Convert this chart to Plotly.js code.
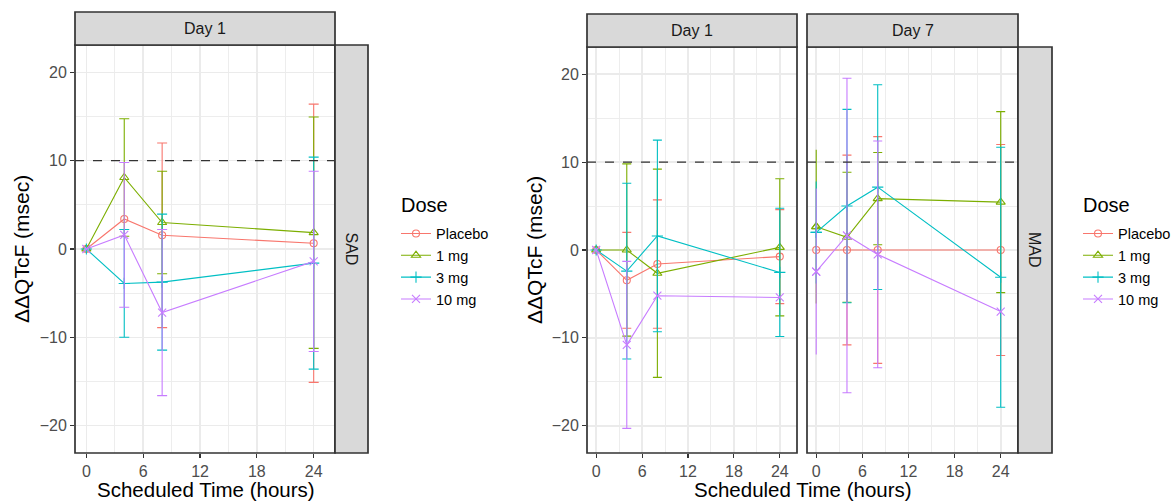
<!DOCTYPE html>
<html>
<head>
<meta charset="utf-8">
<script src="https://cdn.plot.ly/plotly-3.0.1.min.js"></script>
<style>html,body{margin:0;padding:0;background:#fff;}#chart{width:1176px;height:502px;}</style>
</head>
<body>
<div id="chart"></div>
<script>
// ---------- data ----------
const timeHours = [0, 4, 8, 24];
const doseNames = ["Placebo", "1 mg", "3 mg", "10 mg"];
const xTickVals = [0, 6, 12, 18, 24];
const yTickVals = [-20, -10, 0, 10, 20];
const refLine = 10;

// SAD, Day 1 (mean, half-width of error bar; null = no bar drawn)
const sadPlacebo = [0, 3.4, 1.55, 0.65];
const sadPlaceboErr = [null, null, 10.45, 15.75];
const sad1mg = [0, 8.1, 3.0, 1.85];
const sad1mgErr = [null, 6.65, 5.8, 13.1];
const sad3mg = [0, -3.9, -3.75, -1.6];
const sad3mgErr = [null, 6.1, 7.7, 12.0];
const sad10mg = [0, 1.6, -7.2, -1.4];
const sad10mgErr = [null, 8.2, 9.4, 10.2];

// MAD, Day 1
const madD1Placebo = [0, -3.45, -1.6, -0.75];
const madD1PlaceboErr = [null, 5.45, 7.3, 5.35];
const madD11mg = [0, 0.0, -2.65, 0.3];
const madD11mgErr = [null, 9.8, 11.85, 7.8];
const madD13mg = [0, -2.4, 1.6, -2.55];
const madD13mgErr = [null, 10.0, 10.9, 7.3];
const madD110mg = [0, -10.8, -5.2, -5.4];
const madD110mgErr = [null, 9.5, null, null];

// MAD, Day 7
const madD7Placebo = [0, 0, 0, 0];
const madD7PlaceboErr = [null, 10.8, 12.9, 12.0];
const madD71mg = [2.65, 1.45, 5.85, 5.45];
const madD71mgErr = [8.75, 7.4, 5.25, 10.3];
const madD73mg = [2.0, 5.0, 7.15, -3.1];
const madD73mgErr = [5.8, 11.0, 11.65, 14.8];
const madD710mg = [-2.45, 1.65, -0.5, -7.0];
const madD710mgErr = [9.45, 17.9, 12.9, null];

// ---------- style ----------
const colors = ["#F8766D", "#7CAE00", "#00BFC4", "#C77CFF"];
const symbols = ["circle-open", "triangle-up-open", "cross-thin-open", "x-thin-open"];
const sizes = [7, 8, 8, 8];
const FONT = "Liberation Sans, Arial, sans-serif";
const W = 1176, H = 502;
const px = v => v / W;
const py = v => 1 - v / H;

const nanify = a => a.map(v => (v === null ? NaN : v));

function panelTraces(xa, ya, vals, errs, legendId, showLegend, capW, noCapFirst) {
  const out = [];
  vals.forEach((v, k) => {
    const e = nanify(errs[k]);
    const mainErr = noCapFirst ? e.map((x, i) => (i === 0 ? NaN : x)) : e;
    out.push({
      type: "scatter", mode: "lines+markers",
      x: timeHours, y: v, xaxis: xa, yaxis: ya,
      name: doseNames[k], legend: legendId, showlegend: showLegend,
      line: {color: colors[k], width: 1.1},
      marker: {symbol: symbols[k], size: sizes[k], color: colors[k], line: {width: 1.1, color: colors[k]}},
      error_y: {type: "data", array: mainErr, visible: true, color: colors[k], thickness: 1.1, width: capW},
      hoverinfo: "skip"
    });
    if (noCapFirst && !isNaN(e[0])) {
      out.push({
        type: "scatter", mode: "markers",
        x: [timeHours[0]], y: [v[0]], xaxis: xa, yaxis: ya,
        showlegend: false,
        marker: {symbol: symbols[k], size: sizes[k], color: colors[k], line: {width: 1.1, color: colors[k]}},
        error_y: {type: "data", array: [e[0]], visible: true, color: colors[k], thickness: 1.1, width: 0},
        hoverinfo: "skip"
      });
    }
  });
  return out;
}

const traces = [].concat(
  panelTraces("x", "y", [sadPlacebo, sad1mg, sad3mg, sad10mg],
              [sadPlaceboErr, sad1mgErr, sad3mgErr, sad10mgErr], "legend", true, 5, false),
  panelTraces("x2", "y2", [madD1Placebo, madD11mg, madD13mg, madD110mg],
              [madD1PlaceboErr, madD11mgErr, madD13mgErr, madD110mgErr], "legend2", true, 4.5, false),
  panelTraces("x3", "y3", [madD7Placebo, madD71mg, madD73mg, madD710mg],
              [madD7PlaceboErr, madD71mgErr, madD73mgErr, madD710mgErr], "legend2", false, 4.5, true)
);

const gridC = "#EBEBEB";
function xAxis(d0, d1, anchor) {
  return {
    domain: [px(d0), px(d1)], anchor: anchor, range: [-1.2, 26.25],
    tickvals: xTickVals, ticktext: xTickVals.map(String),
    showline: false, zeroline: false, showgrid: true, gridcolor: gridC, gridwidth: 1.6,
    minor: {dtick: 3, tick0: 0, showgrid: true, gridcolor: gridC, gridwidth: 0.9},
    ticks: "outside", ticklen: 4, tickwidth: 1.1, tickcolor: "#333333",
    tickfont: {family: FONT, size: 16, color: "#4D4D4D"}, fixedrange: true
  };
}
function yAxis(top, anchor, labels) {
  return {
    domain: [py(453), py(top)], anchor: anchor, range: [-23.1, 23.1],
    tickvals: yTickVals, ticktext: yTickVals.map(v => (v < 0 ? "\u2212" + Math.abs(v) : String(v))),
    showline: false, zeroline: false, showgrid: true, gridcolor: gridC, gridwidth: 1.6,
    minor: {dtick: 5, tick0: 0, showgrid: true, gridcolor: gridC, gridwidth: 0.9},
    ticks: labels ? "outside" : "", ticklen: 4, tickwidth: 1.1, tickcolor: "#333333",
    showticklabels: labels,
    tickfont: {family: FONT, size: 16, color: "#4D4D4D"}, fixedrange: true
  };
}

function rect(x0, y0, x1, y1, fill) {
  return {type: "rect", xref: "paper", yref: "paper", x0: px(x0), x1: px(x1), y0: py(y1), y1: py(y0),
          fillcolor: fill, line: {color: "#333333", width: 1.7}, layer: "above"};
}
function dash(xr, yr) {
  return {type: "line", xref: xr + " domain", yref: yr, x0: 0, x1: 1, y0: refLine, y1: refLine,
          line: {color: "#333333", width: 1.2, dash: "dash"}, layer: "above"};
}

const shapes = [
  rect(75, 45, 335, 453, "rgba(0,0,0,0)"),
  rect(75, 12, 335, 45, "#D9D9D9"),
  rect(335, 45, 368, 453, "#D9D9D9"),
  rect(587, 47, 797, 453, "rgba(0,0,0,0)"),
  rect(587, 14, 797, 47, "#D9D9D9"),
  rect(807, 47, 1018, 453, "rgba(0,0,0,0)"),
  rect(807, 14, 1018, 47, "#D9D9D9"),
  rect(1018, 47, 1052, 453, "#D9D9D9"),
  dash("x", "y"), dash("x2", "y2"), dash("x3", "y3")
];

function ann(text, x, y, size, color, angle, xanchor, yanchor) {
  return {text: text, xref: "paper", yref: "paper", x: px(x), y: py(y), xanchor: xanchor || "center",
          yanchor: yanchor || "middle", borderpad: 0,
          showarrow: false, textangle: angle || 0, font: {family: FONT, size: size, color: color}};
}
const annotations = [
  ann("Day 1", 205, 28.5, 16, "#1A1A1A"),
  ann("SAD", 351.5, 249, 16, "#1A1A1A", 90),
  ann("Day 1", 692, 30.5, 16, "#1A1A1A"),
  ann("Day 7", 912.5, 30.5, 16, "#1A1A1A"),
  ann("MAD", 1035, 250, 16, "#1A1A1A", 90),
  ann("\u0394\u0394QTcF (msec)", 21, 249, 21, "#000000", -90),
  ann("\u0394\u0394QTcF (msec)", 534, 250, 21, "#000000", -90),
  ann("Scheduled Time (hours)", 205.5, 502, 20.5, "#000000", 0, "center", "bottom"),
  ann("Scheduled Time (hours)", 802.5, 502, 20.5, "#000000", 0, "center", "bottom"),
  ann("Dose", 400, 205, 20, "#000000", 0, "left"),
  ann("Dose", 1082, 205, 20, "#000000", 0, "left")
];

function legendCfg(x, y) {
  return {x: px(x), y: py(y), xanchor: "left", yanchor: "top", bgcolor: "rgba(0,0,0,0)",
          font: {family: FONT, size: 14.5, color: "#000"}, tracegroupgap: 0, itemclick: false};
}

const layout = {
  width: W, height: H, margin: {l: 0, r: 0, t: 0, b: 0},
  paper_bgcolor: "#FFFFFF", plot_bgcolor: "#FFFFFF",
  font: {family: FONT},
  showlegend: true,
  xaxis: xAxis(75, 335, "y"), yaxis: yAxis(45, "x", true),
  xaxis2: xAxis(587, 797, "y2"), yaxis2: yAxis(47, "x2", true),
  xaxis3: xAxis(807, 1018, "y3"), yaxis3: yAxis(47, "x3", false),
  legend: legendCfg(396, 217.5), legend2: legendCfg(1078, 217.5),
  shapes: shapes, annotations: annotations
};

Plotly.newPlot("chart", traces, layout, {displayModeBar: false, staticPlot: true});
</script>
</body>
</html>
